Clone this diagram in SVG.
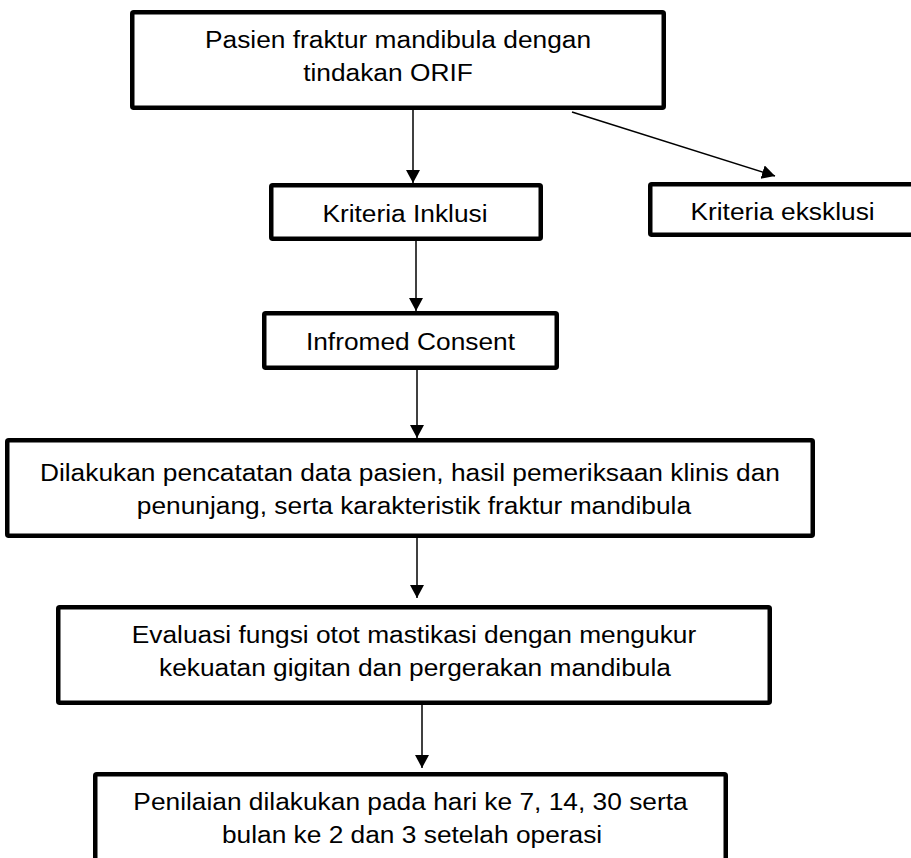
<svg xmlns="http://www.w3.org/2000/svg" width="911" height="858" viewBox="0 0 911 858">
<style>
.box{fill:#fff;stroke:#000;stroke-width:4.5}
.t{font-family:"Liberation Sans",Arial,sans-serif;font-size:23.5px;fill:#000;text-anchor:middle}
.c{stroke:#000;stroke-width:1.5;fill:none}
</style>
<defs>
<marker id="ah" markerUnits="userSpaceOnUse" markerWidth="16" markerHeight="14" refX="13" refY="7" orient="auto">
<path d="M0,0 L13,7 L0,14 Z" fill="#000"/>
</marker>
</defs>
<rect width="911" height="858" fill="#fff"/>
<g id="connectors">
<line class="c" x1="413" y1="110" x2="413" y2="183" marker-end="url(#ah)"/>
<line class="c" x1="572" y1="112" x2="775" y2="176" marker-end="url(#ah)"/>
<line class="c" x1="416" y1="241" x2="416" y2="311" marker-end="url(#ah)"/>
<line class="c" x1="417" y1="370" x2="417" y2="438" marker-end="url(#ah)"/>
<line class="c" x1="417" y1="538" x2="417" y2="598" marker-end="url(#ah)"/>
<line class="c" x1="422" y1="705" x2="422" y2="768" marker-end="url(#ah)"/>
</g>
<g id="n1">
<rect class="box" x="132.25" y="12.25" width="531.5" height="95.5" rx="1.5"/>
<text class="t" transform="scale(1.12 1)" x="355.4" y="48">Pasien fraktur mandibula dengan</text>
<text class="t" transform="scale(1.12 1)" x="346.4" y="81">tindakan ORIF</text>
</g>
<g id="n2">
<rect class="box" x="271.25" y="185.25" width="269.5" height="53.5" rx="1.5"/>
<text class="t" transform="scale(1.12 1)" x="361.6" y="222">Kriteria Inklusi</text>
</g>
<g id="n3">
<rect class="box" x="650.25" y="184.25" width="300" height="50.5" rx="1.5"/>
<text class="t" transform="scale(1.12 1)" x="698.7" y="220">Kriteria eksklusi</text>
</g>
<g id="n4">
<rect class="box" x="264.25" y="313.25" width="292.5" height="54.5" rx="1.5"/>
<text class="t" transform="scale(1.12 1)" x="366.5" y="350">Infromed Consent</text>
</g>
<g id="n5">
<rect class="box" x="7.25" y="440.25" width="805.5" height="95.5" rx="1.5"/>
<text class="t" transform="scale(1.12 1)" x="366" y="481">Dilakukan pencatatan data pasien, hasil pemeriksaan klinis dan</text>
<text class="t" transform="scale(1.12 1)" x="369.6" y="514">penunjang, serta karakteristik fraktur mandibula</text>
</g>
<g id="n6">
<rect class="box" x="58.25" y="607.25" width="711.5" height="95.5" rx="1.5"/>
<text class="t" transform="scale(1.12 1)" x="369.6" y="643">Evaluasi fungsi otot mastikasi dengan mengukur</text>
<text class="t" transform="scale(1.12 1)" x="370.5" y="676">kekuatan gigitan dan pergerakan mandibula</text>
</g>
<g id="n7">
<rect class="box" x="95.25" y="774.25" width="630.5" height="110" rx="1.5"/>
<text class="t" transform="scale(1.12 1)" x="366.5" y="810">Penilaian dilakukan pada hari ke 7, 14, 30 serta</text>
<text class="t" transform="scale(1.12 1)" x="367.9" y="843">bulan ke 2 dan 3 setelah operasi</text>
</g>
</svg>
